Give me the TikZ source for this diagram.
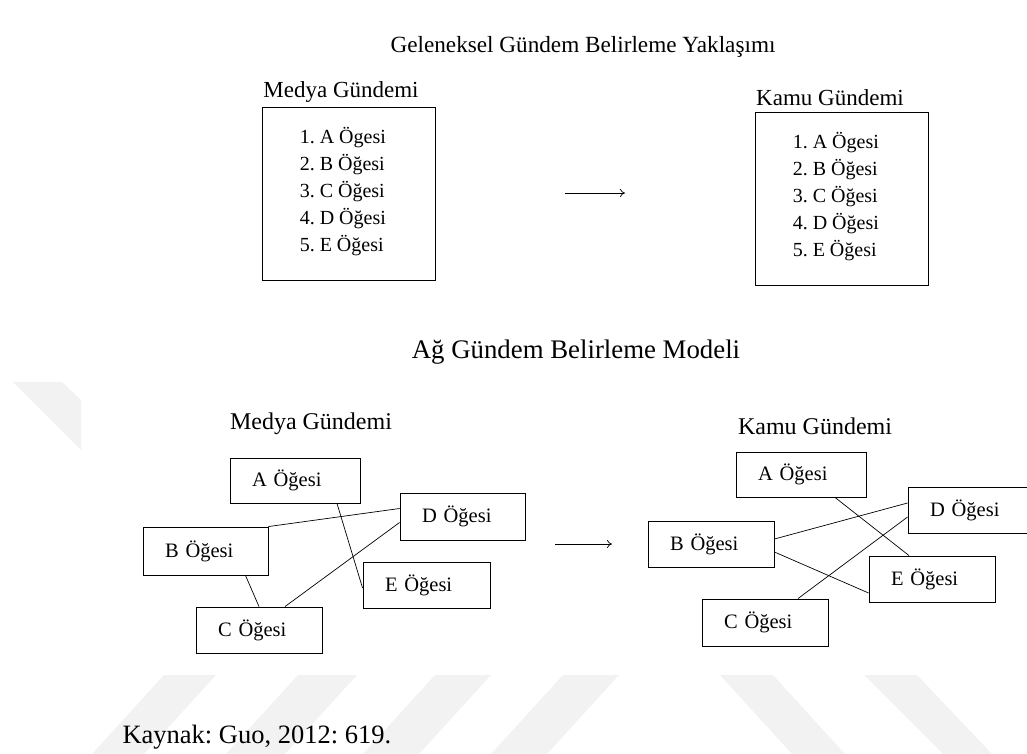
\documentclass[tikz,border=0pt]{standalone}
\usepackage{fontspec}
\setmainfont{Liberation Serif}
\usetikzlibrary{positioning, arrows.meta}
\frenchspacing

\tikzset{
  listbox/.style={draw, line width=0.9pt, minimum width=173pt, minimum height=173pt, inner sep=0pt},
  itemlist/.style={inner sep=0pt, align=left, font=\fontsize{20}{27}\selectfont},
  itembox/.style={draw, line width=0.9pt, minimum height=46pt, inner xsep=22pt, inner ysep=0pt, text width=82pt, align=left, font=\fontsize{20.5}{24}\selectfont},
  head/.style={font=\fontsize{23}{27}\selectfont},
  title/.style={font=\fontsize{23.2}{28}\selectfont},
  link/.style={line width=0.7pt},
  flow/.style={-{To[length=5pt,width=8pt]}, line width=0.7pt},
  watermark/.style={fill=black!5, draw=none}
}

\begin{document}
\begin{tikzpicture}[x=1pt, y=-1pt]
        \clip (0,0) rectangle (1027,754);
        % faint watermark behind the figure
        \fill[watermark] (13,382) -- (62,382) -- (81,400) -- (81,450) -- cycle;
        \fill[watermark] (164,675) -- (216,675) -- (144,754) -- (92,754) -- cycle;
        \fill[watermark] (298,675) -- (357,675) -- (285,754) -- (226,754) -- cycle;
        \fill[watermark] (435,675) -- (491,675) -- (419,754) -- (363,754) -- cycle;
        \fill[watermark] (563,675) -- (619,675) -- (547,754) -- (491,754) -- cycle;
        \fill[watermark] (720,675) -- (773,675) -- (845,754) -- (792,754) -- cycle;
        \fill[watermark] (864,675) -- (917,675) -- (992,754) -- (943,754) -- cycle;

        % traditional model
        \node[title] (geleneksel) at (583,47) {Geleneksel Gündem Belirleme Yaklaşımı};
        \node[listbox] (medyaList) at (348.5,193.5) {};
        \node[listbox] (kamuList) at (841.5,198.5) {};
        \node[head] (medyaHead) at (341,92) {Medya Gündemi};
        \node[head] (kamuHead) at (830,98) {Kamu Gündemi};
        \node[itemlist, anchor=north west] (medyaItems) at ([xshift=38pt, yshift=-21pt]medyaList.north west)
            {1. A Ögesi\\2. B Öğesi\\3. C Öğesi\\4. D Öğesi\\5. E Öğesi};
        \node[itemlist, anchor=north west] (kamuItems) at ([xshift=38pt, yshift=-21pt]kamuList.north west)
            {1. A Ögesi\\2. B Öğesi\\3. C Öğesi\\4. D Öğesi\\5. E Öğesi};
        \coordinate (topFrom) at (565,193);
        \coordinate (topTo) at (625,193);
        \draw[flow] (topFrom) -- (topTo);

        % network model
        \node[title, font=\fontsize{26.8}{32}\selectfont] (agModel) at (576,352) {Ağ Gündem Belirleme Modeli};
        \node[head, font=\fontsize{24}{28}\selectfont] (medyaNet) at (311,424) {Medya Gündemi};
        \node[head, font=\fontsize{24}{28}\selectfont] (kamuNet) at (815,426) {Kamu Gündemi};

        % media agenda elements
        \node[itembox, text width=86pt, minimum height=45pt] (mA) at (295,480.5) {A Öğesi};
        \node[itembox, text width=81pt, minimum height=47pt] (mD) at (462.5,516.5) {D Öğesi};
        \node[itembox, text width=81pt, minimum height=48pt] (mB) at (205.5,551) {B Öğesi};
        \node[itembox, text width=83pt] (mE) at (426.5,585) {E Öğesi};
        \node[itembox] (mC) at (259,630) {C Öğesi};

        % public agenda elements
        \node[itembox, text width=86pt, minimum height=45pt] (kA) at (801,474.5) {A Öğesi};
        \node[itembox] (kD) at (971,510) {D Öğesi};
        \node[itembox] (kB) at (711,544) {B Öğesi};
        \node[itembox] (kE) at (932,579) {E Öğesi};
        \node[itembox, minimum height=47pt] (kC) at (765,622.5) {C Öğesi};

        % links in media agenda
        \draw[link] (mB.north east) -- ([yshift=8pt]mD.west);
        \draw[link] ([xshift=42pt]mA.south) -- ([yshift=-3pt]mE.west);
        \draw[link] ([yshift=-6pt]mD.west) -- ([xshift=26pt]mC.north);
        \draw[link] ([xshift=40pt]mB.south) -- (mC.north);

        % links in public agenda
        \draw[link] ([xshift=34pt]kA.south) -- ([xshift=-23pt]kE.north);
        \draw[link] ([yshift=5pt]kB.east) -- ([yshift=7pt]kD.west);
        \draw[link] ([yshift=-8pt]kB.east) -- ([yshift=-14pt]kE.west);
        \draw[link] ([xshift=33pt]kC.north) -- ([yshift=-7pt]kD.west);

        \coordinate (netFrom) at (555,544);
        \coordinate (netTo) at (612,544);
        \draw[flow] (netFrom) -- (netTo);

        % source
        \node[anchor=west, font=\fontsize{26.5}{30}\selectfont] (kaynak) at (119,737) {Kaynak: Guo, 2012: 619.};
\end{tikzpicture}
\end{document}
